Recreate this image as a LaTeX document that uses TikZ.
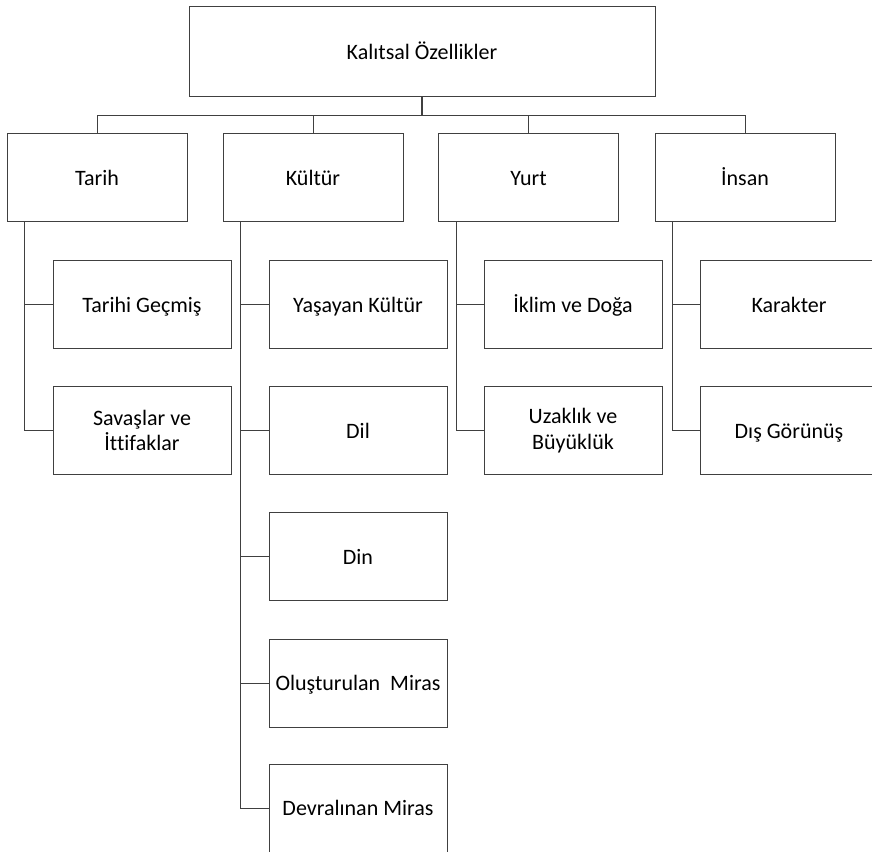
\documentclass[tikz,border=0pt]{standalone}
\usepackage{fontspec}
\setmainfont{Carlito}[Ligatures=CommonOff]
\usetikzlibrary{calc}
\definecolor{linegray}{HTML}{404040}
\begin{document}
\begin{tikzpicture}[x=0.75pt,y=-0.75pt,
    font=\fontsize{16.5}{19}\selectfont,
    box/.style={draw=linegray,line width=0.75pt,align=center,inner sep=0pt,
      text height=11.4pt,text depth=0pt},
    twoline/.style={text height={},text depth={}},
    rootbox/.style={box,minimum width=349.5pt,minimum height=67.5pt},
    headbox/.style={box,minimum width=135pt,minimum height=66pt},
    leafbox/.style={box,minimum width=133.5pt,minimum height=66pt},
    link/.style={draw=linegray,line width=0.75pt}]
  \useasboundingbox (0,0) rectangle (872,852);
  \clip (0,0) rectangle (872,852);

  % top
  \node[rootbox] (root) at (422,52) {Kalıtsal Özellikler};
  \coordinate (bus) at (422,116);

  % second row
  \node[headbox] (tarih) at (97,178) {Tarih};
  \node[headbox] (kultur) at (313,178) {Kültür};
  \node[headbox] (yurt) at (528.5,178) {Yurt};
  \node[headbox] (insan) at (745,178) {İnsan};

  \foreach \h in {tarih,kultur,yurt,insan}
    \draw[link] (\h.north) |- (bus);
  \draw[link,line width=1.5pt] (root.south) -- (bus);

  % leaves
  \node[leafbox] (tarih1) at (142,305) {Tarihi Geçmiş};
  \node[leafbox,twoline] (tarih2) at (142,430.5) {Savaşlar ve\\İttifaklar};

  \node[leafbox] (kultur1) at (358,305) {Yaşayan Kültür};
  \node[leafbox] (kultur2) at (358,430.5) {Dil};
  \node[leafbox] (kultur3) at (358,556.5) {Din};
  \node[leafbox] (kultur4) at (358,683) {Oluşturulan~ Miras};
  \node[leafbox] (kultur5) at (358,808) {Devralınan Miras};

  \node[leafbox] (yurt1) at (573,305) {İklim ve Doğa};
  \node[leafbox,twoline] (yurt2) at (573,430.5) {Uzaklık ve\\Büyüklük};

  \node[leafbox] (insan1) at (789,305) {Karakter};
  \node[leafbox] (insan2) at (789,430.5) {Dış Görünüş};

  \foreach \h/\n in {tarih/2,kultur/5,yurt/2,insan/2}
    \foreach \i in {1,...,\n}
      \draw[link] ($(\h.south west)+(18,0)$) |- (\h\i.west);
\end{tikzpicture}
\end{document}
